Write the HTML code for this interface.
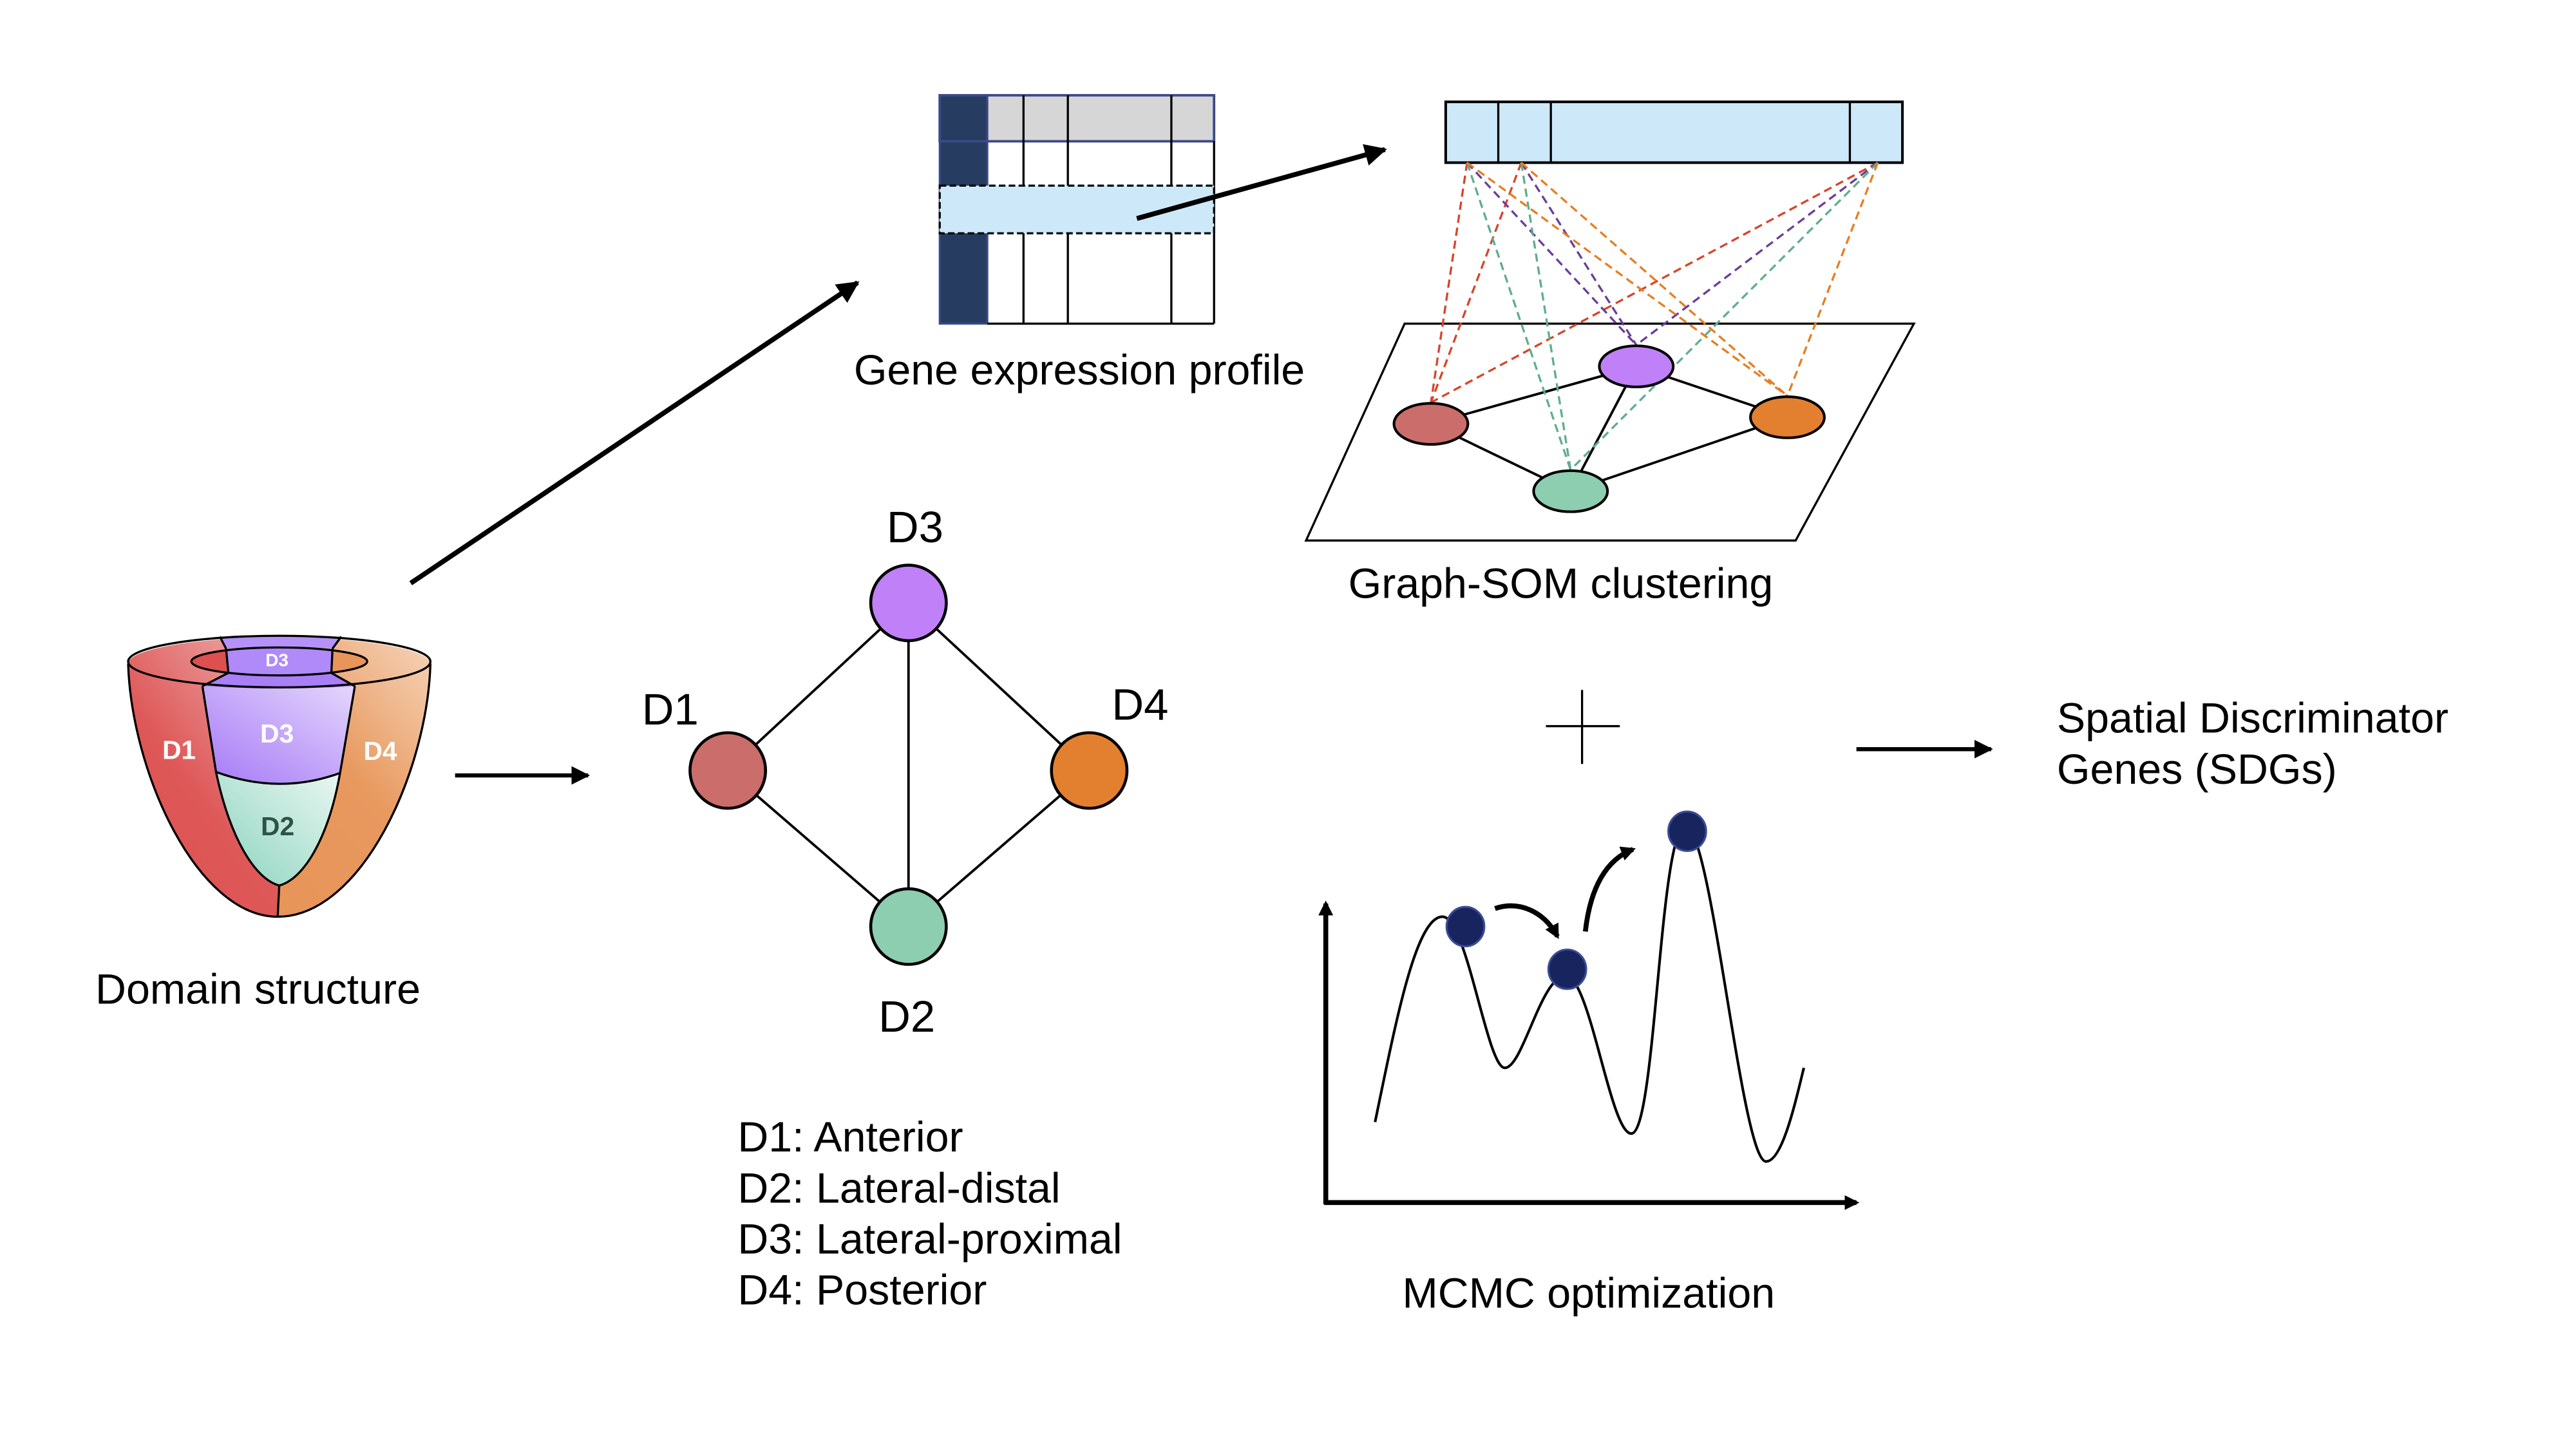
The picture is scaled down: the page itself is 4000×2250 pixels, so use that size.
<!DOCTYPE html>
<html><head><meta charset="utf-8"><style>
html,body{margin:0;padding:0;background:#fff;}
svg{display:block;}
text{font-family:"Liberation Sans",Arial,sans-serif;fill:#000;}
</style></head><body>
<svg width="4000" height="2250" viewBox="0 0 1568 882" xmlns="http://www.w3.org/2000/svg">
<defs>
<marker id="ah" viewBox="0 0 10 10" refX="9" refY="5" markerWidth="4.5" markerHeight="4.5" orient="auto" markerUnits="strokeWidth"><path d="M0,0 L10,5 L0,10 Z" fill="#000"/></marker>
<marker id="ah2" viewBox="0 0 10 10" refX="8" refY="5" markerWidth="3" markerHeight="3" orient="auto" markerUnits="strokeWidth"><path d="M0,0 L10,5 L0,10 Z" fill="#000"/></marker>
<linearGradient id="gr" x1="1" y1="0" x2="0.3" y2="1"><stop offset="0" stop-color="#f0b4b4"/><stop offset="0.6" stop-color="#de5858"/><stop offset="1" stop-color="#dc5050"/></linearGradient>
<linearGradient id="go" x1="1" y1="0" x2="0.4" y2="1"><stop offset="0" stop-color="#f7dcc6"/><stop offset="0.6" stop-color="#e8995e"/><stop offset="1" stop-color="#e8955a"/></linearGradient>
<linearGradient id="gp" x1="1" y1="0" x2="0" y2="1"><stop offset="0" stop-color="#e4d6fc"/><stop offset="1" stop-color="#a478f6"/></linearGradient>
<linearGradient id="gg" x1="1" y1="0" x2="0" y2="1"><stop offset="0" stop-color="#eaf7f2"/><stop offset="1" stop-color="#8ad3bd"/></linearGradient>
<clipPath id="body"><path d="M78,404 C80,470 120,558 169,558 C220,558 260,470 262,404 A92,16 0 0 0 78,404 Z"/></clipPath>
<clipPath id="inner"><ellipse cx="170" cy="402.6" rx="53.5" ry="8.5"/></clipPath>
</defs>

<!-- Heart -->
<g clip-path="url(#body)">
<rect x="70" y="380" width="100" height="190" fill="url(#gr)"/>
<rect x="170" y="380" width="100" height="190" fill="url(#go)"/>
</g>
<g clip-path="url(#inner)">
<rect x="110" y="390" width="28" height="25" fill="#dc5050"/>
<rect x="138" y="390" width="64" height="25" fill="#b08af8"/>
<rect x="202" y="390" width="25" height="25" fill="#e8955a"/>
</g>
<path d="M133.8,387.5 L207.7,387.5 L202.4,394.8 Q170,392.5 137.6,394.8 Z" fill="#b592f8"/>
<path d="M139,409.6 Q170,412.5 201.7,409.6 L216,417.7 Q170,420.5 123.2,417.7 Z" fill="#a97ff7"/>
<path d="M123.2,417.7 Q170,420.5 216,417.7 L207,470.5 Q170,484 131.5,469.9 Z" fill="url(#gp)"/>
<path d="M131.5,469.9 Q170,484 207,470.5 C200,510 185,535 170,539 C155,535 140,510 131.5,469.9 Z" fill="url(#gg)"/>
<g fill="none" stroke="#000" stroke-width="1.3">
<path d="M78,404 C80,470 120,558 169,558 C220,558 260,470 262,404"/>
<ellipse cx="170" cy="402.7" rx="92" ry="15.7"/>
<ellipse cx="170" cy="402.6" rx="53.5" ry="8.5"/>
<path d="M133.8,387.5 L137.6,394.8 M139,409.6 L123.2,417.7 M207.7,387.5 L202.4,394.8 M201.7,409.6 L216,417.7"/>
<path d="M137.6,394.8 L139,409.6 M202.4,394.8 L201.7,409.6"/>
<path d="M123.2,417.7 L131.5,469.9 C140,510 155,535 170,539 C185,535 200,510 207,470.5 L216,417.7"/>
<path d="M131.5,469.9 Q170,484 207,470.5"/>
<path d="M170,539 L169,558"/>
</g>
<g font-weight="bold" fill="#fff" text-anchor="middle">
<text x="168.6" y="405.5" font-size="11" style="fill:#fff">D3</text>
<text x="168.6" y="452" font-size="16" style="fill:#fff">D3</text>
<text x="109" y="462" font-size="16" style="fill:#fff">D1</text>
<text x="231.5" y="462.5" font-size="16" style="fill:#fff">D4</text>
<text x="169" y="508.5" font-size="16" style="fill:#2f5245">D2</text>
</g>
<text x="157" y="611" font-size="26" text-anchor="middle">Domain structure</text>

<!-- arrows -->
<line x1="250" y1="355" x2="522" y2="172" stroke="#000" stroke-width="3" marker-end="url(#ah)"/>
<line x1="277" y1="472" x2="358" y2="472" stroke="#000" stroke-width="2.5" marker-end="url(#ah)"/>

<!-- Table -->
<rect x="601" y="58" width="138" height="28" fill="#d6d6d6"/>
<rect x="572" y="58" width="29" height="139" fill="#263c60"/>
<rect x="572" y="58" width="167" height="28" fill="none" stroke="#3c4a8a" stroke-width="1.5"/>
<rect x="572" y="58" width="29" height="139" fill="none" stroke="#3c4a8a" stroke-width="1.2"/>
<g stroke="#000" stroke-width="1.3">
<line x1="623" y1="58" x2="623" y2="197"/><line x1="650" y1="58" x2="650" y2="197"/><line x1="713" y1="58" x2="713" y2="197"/>
<line x1="739" y1="86" x2="739" y2="197"/><line x1="601" y1="197" x2="739" y2="197"/>
</g>
<rect x="572" y="113" width="167" height="29" fill="#cde9f9" stroke="#000" stroke-width="1.3" stroke-dasharray="4,2"/>
<line x1="692" y1="133" x2="843" y2="91" stroke="#000" stroke-width="3" marker-end="url(#ah)"/>
<text x="657" y="234" font-size="26" text-anchor="middle">Gene expression profile</text>

<!-- Graph-SOM -->
<rect x="880" y="62" width="278" height="37" fill="#cde9f9" stroke="#000" stroke-width="1.6"/>
<g stroke="#000" stroke-width="1.3"><line x1="912" y1="62" x2="912" y2="99"/><line x1="944" y1="62" x2="944" y2="99"/><line x1="1126" y1="62" x2="1126" y2="99"/></g>
<path d="M855,197 L1165,197 L1093,329 L795,329 Z" fill="#fff" stroke="#000" stroke-width="1.3"/>
<g stroke="#000" stroke-width="1.5">
<line x1="871" y1="258" x2="996" y2="223"/><line x1="871" y1="258" x2="956" y2="299"/>
<line x1="996" y1="223" x2="956" y2="299"/><line x1="996" y1="223" x2="1088" y2="254"/>
<line x1="1088" y1="254" x2="956" y2="299"/>
</g>
<g fill="none" stroke-width="1.3" stroke-dasharray="5,3">
<g stroke="#d6452b"><line x1="893" y1="99" x2="871" y2="245"/><line x1="926" y1="99" x2="871" y2="245"/><line x1="1143" y1="99" x2="871" y2="245"/></g>
<g stroke="#6a3d9a"><line x1="893" y1="99" x2="996" y2="210"/><line x1="926" y1="99" x2="996" y2="210"/><line x1="1143" y1="99" x2="996" y2="210"/></g>
<g stroke="#5fae8c"><line x1="893" y1="99" x2="956" y2="286"/><line x1="926" y1="99" x2="956" y2="286"/><line x1="1143" y1="99" x2="956" y2="286"/></g>
<g stroke="#e67e22"><line x1="893" y1="99" x2="1088" y2="241"/><line x1="926" y1="99" x2="1088" y2="241"/><line x1="1143" y1="99" x2="1088" y2="241"/></g>
</g>
<g stroke="#000" stroke-width="1.6">
<ellipse cx="996" cy="223" rx="22.5" ry="12.5" fill="#c080f8"/>
<ellipse cx="871" cy="258" rx="22.5" ry="12.5" fill="#cb6d6a"/>
<ellipse cx="1088" cy="254" rx="22.5" ry="12.5" fill="#e38030"/>
<ellipse cx="956" cy="299" rx="22.5" ry="12.5" fill="#8dcdb0"/>
</g>
<text x="950" y="364" font-size="26" text-anchor="middle">Graph-SOM clustering</text>

<!-- Domain graph -->
<g stroke="#000" stroke-width="1.5">
<line x1="553" y1="367" x2="443" y2="469"/><line x1="553" y1="367" x2="663" y2="469"/>
<line x1="553" y1="367" x2="553" y2="564"/><line x1="443" y1="469" x2="553" y2="564"/>
<line x1="663" y1="469" x2="553" y2="564"/>
</g>
<g stroke="#000" stroke-width="1.8">
<circle cx="553" cy="367" r="23" fill="#c080f8"/>
<circle cx="443" cy="469" r="23" fill="#cb6d6a"/>
<circle cx="663" cy="469" r="23" fill="#e38030"/>
<circle cx="553" cy="564" r="23" fill="#8dcdb0"/>
</g>
<g font-size="27" text-anchor="middle">
<text x="557" y="330">D3</text><text x="408" y="441">D1</text>
<text x="694" y="438">D4</text><text x="552" y="628">D2</text>
</g>
<g font-size="26">
<text x="449" y="701">D1: Anterior</text>
<text x="449" y="732">D2: Lateral-distal</text>
<text x="449" y="763">D3: Lateral-proximal</text>
<text x="449" y="794">D4: Posterior</text>
</g>

<!-- plus & output -->
<g stroke="#000" stroke-width="1.3"><line x1="941" y1="442" x2="986" y2="442"/><line x1="963" y1="420" x2="963" y2="465"/></g>
<line x1="1130" y1="456" x2="1212" y2="456" stroke="#000" stroke-width="2.5" marker-end="url(#ah)"/>
<text x="1252" y="446" font-size="26">Spatial Discriminator</text>
<text x="1252" y="477" font-size="26">Genes (SDGs)</text>

<!-- MCMC -->
<line x1="807" y1="733" x2="807" y2="550" stroke="#000" stroke-width="3" marker-end="url(#ah2)"/>
<line x1="806" y1="732" x2="1130" y2="732" stroke="#000" stroke-width="3" marker-end="url(#ah2)"/>
<path d="M837,683 C850,620 862,558 878,558 C893,558 905,650 916,650 C927,650 938,594 953,594 C968,594 980,690 993,690 C1008,690 1010,503 1026,503 C1042,503 1060,707 1075,707 C1085,707 1093,670 1098,650" fill="none" stroke="#000" stroke-width="1.6"/>
<path d="M910,553 C925,548 940,555 948,570" fill="none" stroke="#000" stroke-width="3" marker-end="url(#ah2)"/>
<path d="M965,567 C968,540 978,523 994,517" fill="none" stroke="#000" stroke-width="3" marker-end="url(#ah2)"/>
<g fill="#17245e" stroke="#3c4c94" stroke-width="1.2">
<ellipse cx="892" cy="564" rx="11.5" ry="12"/>
<ellipse cx="954" cy="590" rx="11.5" ry="12"/>
<ellipse cx="1027" cy="506" rx="11.5" ry="12"/>
</g>
<text x="967" y="796" font-size="26" text-anchor="middle">MCMC optimization</text>
</svg>
</body></html>
